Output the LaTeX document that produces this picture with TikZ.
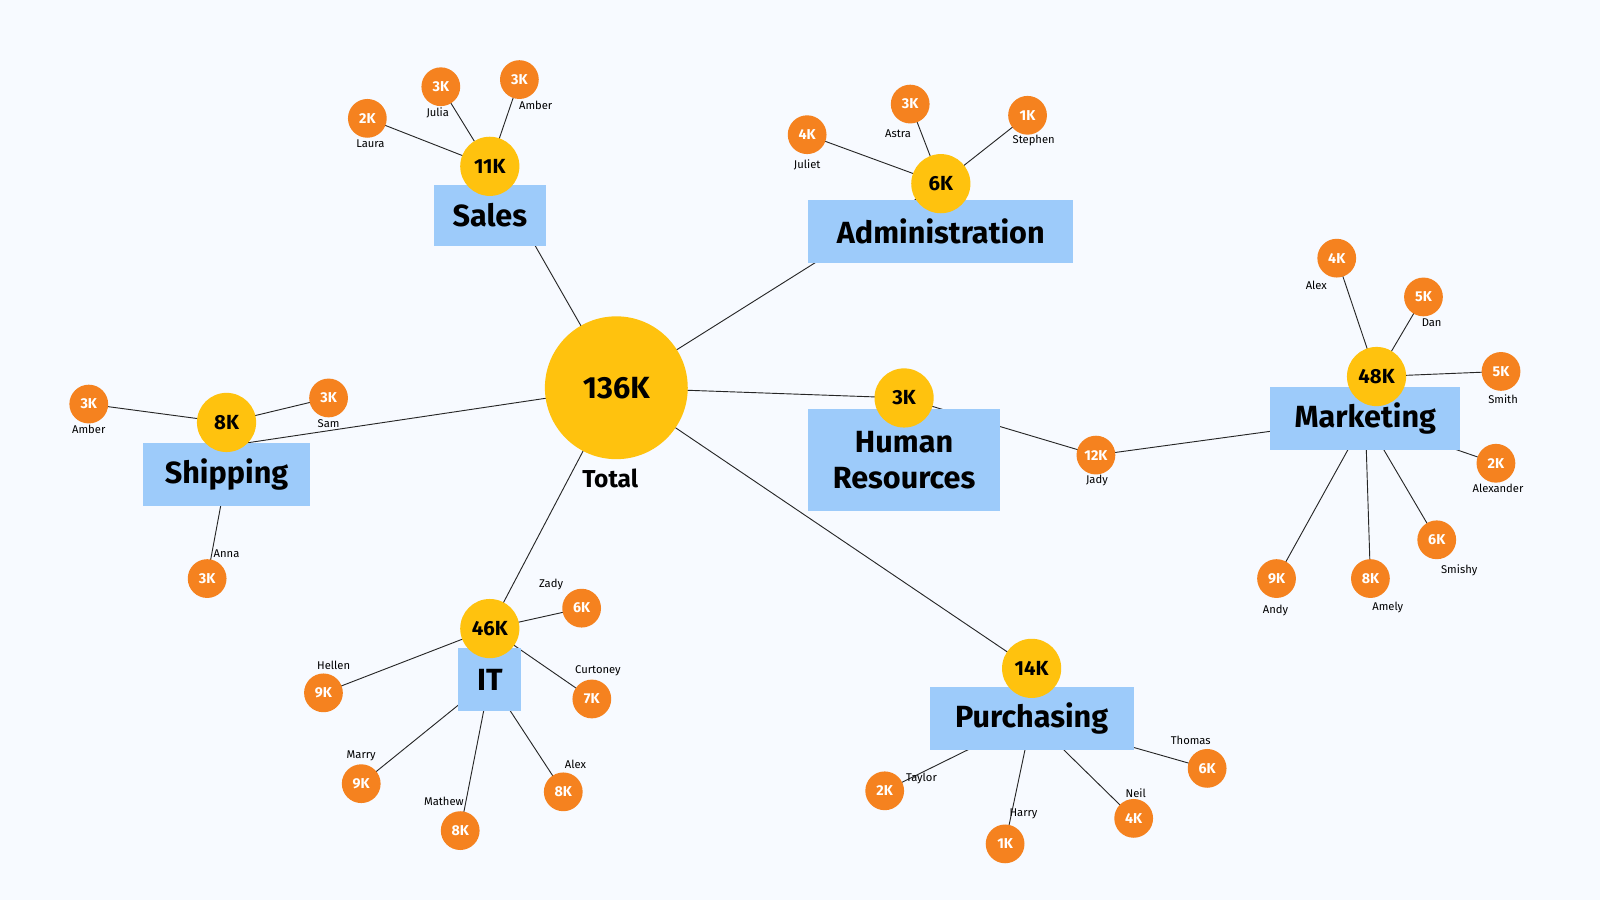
\documentclass[tikz,border=0pt]{standalone}
\usepackage{fontspec}
\setmainfont{Fira Sans}
\usetikzlibrary{positioning}
\definecolor{bg}{HTML}{F7FAFF}
\definecolor{gold}{HTML}{FFC20E}
\definecolor{tang}{HTML}{F5821F}
\definecolor{sky}{HTML}{9DCBFA}
\tikzset{
  link/.style={draw=black!85,line width=0.9pt},
  total/.style={circle,fill=gold,minimum size=140pt,inner sep=0,font=\fontsize{30}{30}\selectfont\bfseries},
  sum/.style={circle,fill=gold,minimum size=58pt,inner sep=0,font=\fontsize{20}{20}\selectfont\bfseries},
  emp/.style={circle,fill=tang,minimum size=38pt,inner sep=0,text=white,font=\fontsize{14}{14}\selectfont\bfseries},
  dept/.style={fill=sky,inner sep=0,align=center,font=\fontsize{30}{36}\selectfont\bfseries},
  who/.style={font=\fontsize{11}{11}\selectfont}
}
\begin{document}
\begin{tikzpicture}[x=1pt,y=-1pt]
  \fill[bg] (0,0) rectangle (1568,882);
  % anchor points
  \foreach \d/\cx/\cy/\bx/\by in {sales/480/163/480/211, admin/922/180/922/227,
      hr/886/390/886/451, mkt/1349/369/1338/410, ship/222/414/222/465,
      it/480/616/480/666, purch/1011/655/1011/704}{
    \coordinate (c-\d) at (\cx,\cy);
    \coordinate (b-\d) at (\bx,\by);
  }
  \coordinate (c-total) at (604,380);
  \coordinate (t-ship) at (222,437);
  % employees
  \foreach \d/\t/\v/\x/\y/\n/\lx/\ly [count=\i] in {
      sales/c/2K/360/116/Laura/363/141, sales/c/3K/432/85/Julia/429/111, sales/c/3K/509/78/Amber/525/103,
      admin/c/4K/791/132/Juliet/791/162, admin/c/3K/892/102/Astra/880/131, admin/c/1K/1007/113/Stephen/1013/138,
      mkt/c/4K/1310/253/Alex/1290/280, mkt/c/5K/1395/291/Dan/1403/316, mkt/c/5K/1471/364/Smith/1473/391,
      mkt/b/2K/1466/454/Alexander/1468/479, mkt/b/6K/1408/529/Smishy/1430/559, mkt/b/8K/1343/567/Amely/1360/595,
      mkt/b/9K/1251/567/Andy/1250/598,
      ship/c/3K/87/396/Amber/87/421, ship/c/3K/322/390/Sam/322/415, ship/b/3K/203/567/Anna/222/543,
      it/c/6K/570/596/Zady/540/573, it/c/7K/580/685/Curtoney/586/657, it/b/8K/552/776/Alex/564/749,
      it/b/8K/451/814/Mathew/435/785, it/b/9K/354/768/Marry/354/741, it/c/9K/317/679/Hellen/327/652,
      purch/b/2K/867/775/Taylor/903/763, purch/b/1K/985/827/Harry/1003/798, purch/b/4K/1111/802/Neil/1113/777,
      purch/b/6K/1183/753/Thomas/1167/726}{
    \coordinate (p\i) at (\x,\y);
    \draw[link] (p\i) -- (\t-\d);
    \node[emp] (emp\i) at (p\i) {\v};
    \node[who] (name\i) at (\lx,\ly) {\n};
  }
  % Jady between HR and Marketing
  \coordinate (p-jady) at (1074,446);
  \draw[link] (c-hr) -- (p-jady) -- (b-mkt);
  \node[emp] (jady) at (p-jady) {12K};
  \node[who] (jady-name) at (1075,471) {Jady};
  % departments
  \foreach \d in {sales,admin,hr,it,purch}
    \draw[link] (c-total) -- (c-\d);
  \draw[link] (c-total) -- (t-ship);
  \node[dept,minimum width=110pt,minimum height=60pt] (sales) at (b-sales) {Sales};
  \node[dept,minimum width=260pt,minimum height=62pt] (admin) at (b-admin) {Administration};
  \node[dept,minimum width=188pt,minimum height=100pt] (hr) at (b-hr) {Human\\Resources};
  \node[dept,minimum width=186pt,minimum height=62pt] (mkt) at (b-mkt) {Marketing};
  \node[dept,minimum width=164pt,minimum height=62pt] (ship) at (b-ship) {Shipping};
  \node[dept,minimum width=62pt,minimum height=62pt] (it) at (b-it) {IT};
  \node[dept,minimum width=200pt,minimum height=62pt] (purch) at (b-purch) {Purchasing};
  \foreach \d/\v in {sales/11K,admin/6K,hr/3K,mkt/48K,ship/8K,it/46K,purch/14K}
    \node[sum] (sum-\d) at (c-\d) {\v};
  \node[total] (total) at (c-total) {136K};
  \node[below=6pt of total,font=\fontsize{24}{24}\selectfont\bfseries,xshift=-6pt] (total-label) {Total};
\end{tikzpicture}
\end{document}
